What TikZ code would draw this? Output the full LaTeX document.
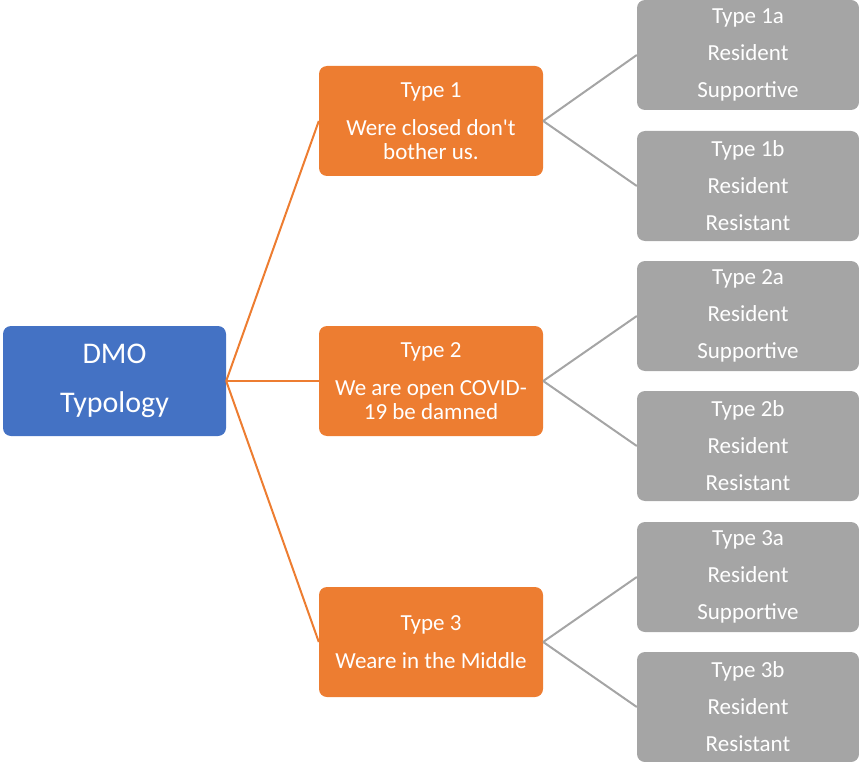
\documentclass[tikz,border=0pt]{standalone}
\usepackage{fontspec}
\setmainfont{Carlito}
\definecolor{dmoblue}{HTML}{4472C4}
\definecolor{dmoorange}{HTML}{ED7D31}
\definecolor{dmogrey}{HTML}{A5A5A5}
\begin{document}
\begin{tikzpicture}[x=1pt,y=-1pt,
  box/.style={rounded corners=8pt, minimum width=224pt, minimum height=110pt, inner sep=0pt, text=white, align=center},
  rootbox/.style={box, fill=dmoblue, minimum width=223pt, font=\fontsize{30}{30}\selectfont},
  midbox/.style={box, fill=dmoorange, font=\fontsize{23}{24}\selectfont},
  leafbox/.style={box, fill=dmogrey, minimum width=222pt, font=\fontsize{23}{23}\selectfont},
  orangeline/.style={draw=dmoorange, line width=2pt},
  greyline/.style={draw=dmogrey, line width=2pt}]
\useasboundingbox (0,0) rectangle (859,762);
\node[rootbox] (dmo) at (114.5,381) {DMO\\[19pt]Typology};
\node[midbox] (t1) at (431,121) {Type 1\\[13.5pt]Were closed don\textquotesingle t\\bother us.};
\node[midbox] (t2) at (431,381) {Type 2\\[13.5pt]We are open COVID-\\19 be damned};
\node[midbox] (t3) at (431,642) {Type 3\\[13.5pt]Weare in the Middle};
\node[leafbox] (t1a) at (748,55) {Type 1a\\[14pt]Resident\\[14pt]Supportive};
\node[leafbox] (t1b) at (748,186) {Type 1b\\[14pt]Resident\\[14pt]Resistant};
\node[leafbox] (t2a) at (748,316) {Type 2a\\[14pt]Resident\\[14pt]Supportive};
\node[leafbox] (t2b) at (748,446) {Type 2b\\[14pt]Resident\\[14pt]Resistant};
\node[leafbox] (t3a) at (748,577) {Type 3a\\[14pt]Resident\\[14pt]Supportive};
\node[leafbox] (t3b) at (748,707) {Type 3b\\[14pt]Resident\\[14pt]Resistant};
\draw[orangeline] (dmo.east) -- (t1.west);
\draw[orangeline] (dmo.east) -- (t2.west);
\draw[orangeline] (dmo.east) -- (t3.west);
\draw[greyline] (t1.east) -- (t1a.west);
\draw[greyline] (t1.east) -- (t1b.west);
\draw[greyline] (t2.east) -- (t2a.west);
\draw[greyline] (t2.east) -- (t2b.west);
\draw[greyline] (t3.east) -- (t3a.west);
\draw[greyline] (t3.east) -- (t3b.west);
\end{tikzpicture}
\end{document}
